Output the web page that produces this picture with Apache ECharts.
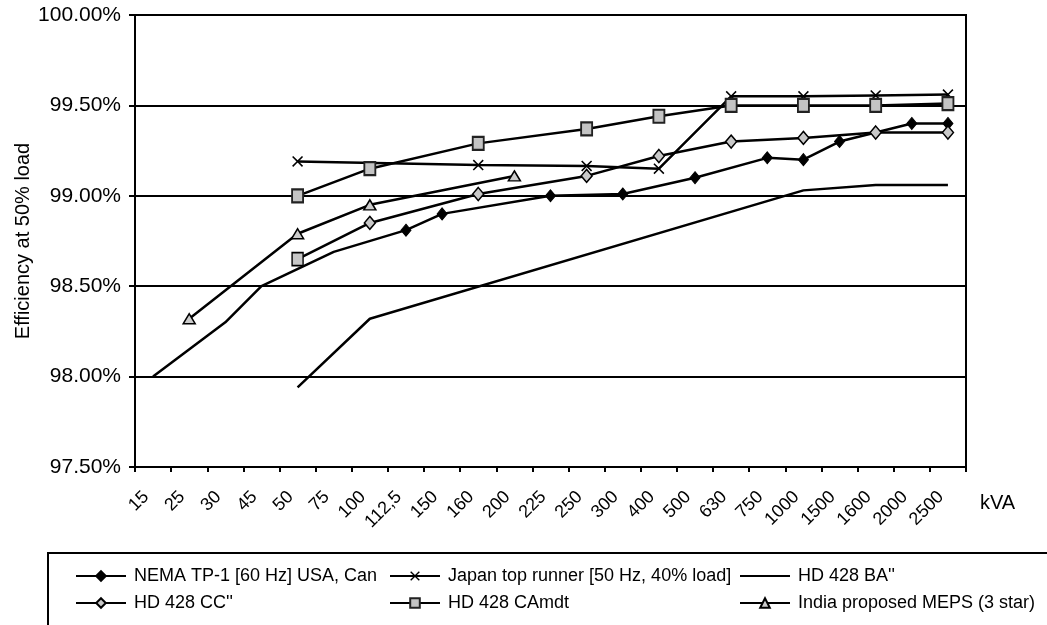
<!DOCTYPE html>
<html>
<head>
<meta charset="utf-8">
<title>Efficiency at 50% load</title>
<script src="https://cdn.jsdelivr.net/npm/echarts@6/dist/echarts.min.js"></script>
<style>
  html, body { margin: 0; padding: 0; background: #fff; }
  #chart { width: 1047px; height: 625px; }
</style>
</head>
<body>
<div id="chart"></div>
<script>
const categories = ['15', '25', '30', '45', '50', '75', '100', '112,5', '150', '160', '200', '225',
  '250', '300', '400', '500', '630', '750', '1000', '1500', '1600', '2000', '2500']
const yTicks = [97.5, 98, 98.5, 99, 99.5, 100]

// one value per category, null where the series has no point
const nema = [98.00, null, 98.30, 98.50, null, 98.69, null, 98.81, 98.90, null, null, 99.00,
  null, 99.01, null, 99.10, null, 99.21, 99.20, 99.30, null, 99.40, 99.40]
const japan = [null, null, null, null, 99.19, null, null, null, null, 99.17, null, null,
  99.165, null, 99.15, null, 99.55, null, 99.55, null, 99.555, null, 99.56]
const hdBA = [null, null, null, null, 97.94, null, 98.32, null, null, null, null, null,
  null, null, null, null, null, null, 99.03, null, 99.06, null, 99.06]
const hdCC = [null, null, null, null, 98.65, null, 98.85, null, null, 99.01, null, null,
  99.11, null, 99.22, null, 99.30, null, 99.32, null, 99.35, null, 99.35]
const hdCAmdt = [null, null, null, null, 99.00, null, 99.15, null, null, 99.29, null, null,
  99.37, null, 99.44, null, 99.50, null, 99.50, null, 99.50, null, 99.51]
const india = [null, 98.32, null, null, 98.79, null, 98.95, null, null, null, 99.11, null,
  null, null, null, null, null, null, null, null, null, null, null]

const names = [
  'NEMA TP-1 [60 Hz] USA, Can',
  'Japan top runner [50 Hz, 40% load]',
  "HD 428 BA''",
  "HD 428 CC''",
  'HD 428 CAmdt',
  'India proposed MEPS (3 star)'
]

const FONT = '"Liberation Sans", Arial, sans-serif'
const xMark = 'path://M0,1L1,0L5,4L9,0L10,1L6,5L10,9L9,10L5,6L1,10L0,9L4,5Z'

function lineSeries (name, data, symbol, size, itemStyle) {
  return {
    name: name,
    type: 'line',
    data: data,
    connectNulls: true,
    showAllSymbol: true,
    symbol: symbol,
    symbolSize: size,
    lineStyle: { color: '#000', width: 2.5 },
    itemStyle: itemStyle,
    emphasis: { disabled: true }
  }
}

// NEMA has no markers below 112,5 kVA; CC'' starts with a square marker
const nemaData = nema.map((v, i) => (i < 7 && v !== null) ? { value: v, symbol: 'none' } : v)
const ccData = hdCC.map((v, i) => i === 4 ? { value: v, symbol: 'rect', symbolSize: [11, 13] } : v)

const legendPos = [[75, 567], [389, 567], [739, 567], [75, 594], [389, 594], [739, 594]]

const option = {
  animation: false,
  backgroundColor: '#fff',
  textStyle: { fontFamily: FONT, color: '#000' },
  grid: { left: 135, right: 81, top: 15, bottom: 158, show: true, borderColor: '#000', borderWidth: 2, backgroundColor: 'transparent' },
  legend: names.map((n, i) => {
    const lg = {
      data: [n],
      left: legendPos[i][0],
      top: legendPos[i][1],
      itemWidth: 50,
      itemHeight: 12,
      padding: 0,
      selectedMode: false,
      lineStyle: { width: 2 },
      textStyle: { fontFamily: FONT, fontSize: 18, color: '#000', padding: [0, 0, 0, 3] }
    }
    // plain line in the legend, no marker
    if (i === 2) lg.itemStyle = { color: 'transparent', borderColor: 'transparent', borderWidth: 0 }
    return lg
  }),
  graphic: [
    {
      type: 'rect',
      z: -1,
      shape: { x: 48, y: 553, width: 1100, height: 100 },
      style: { fill: '#fff', stroke: '#000', lineWidth: 2 }
    },
    {
      type: 'text',
      left: 980,
      top: 493,
      style: { text: 'kVA', font: '20px ' + FONT, fill: '#000' }
    }
  ],
  xAxis: {
    type: 'category',
    data: categories,
    boundaryGap: true,
    axisLine: { lineStyle: { color: '#000', width: 2 } },
    axisTick: { show: true, interval: 0, length: 5, lineStyle: { color: '#000', width: 2 } },
    axisLabel: {
      interval: 0,
      rotate: 45,
      margin: 20,
      padding: [0, 10, 0, 0],
      fontSize: 18,
      fontFamily: FONT,
      color: '#000'
    },
    splitLine: { show: false }
  },
  yAxis: {
    type: 'value',
    min: yTicks[0],
    max: yTicks[yTicks.length - 1],
    interval: 0.5,
    name: 'Efficiency at 50% load',
    nameLocation: 'middle',
    nameGap: 102,
    nameMoveOverlap: false,
    nameTextStyle: { fontSize: 20, fontFamily: FONT, color: '#000' },
    axisLine: { show: true, lineStyle: { color: '#000', width: 2 } },
    axisTick: { show: true, length: 6, lineStyle: { color: '#000', width: 2 } },
    axisLabel: {
      fontSize: 21,
      fontFamily: FONT,
      color: '#000',
      margin: 14,
      formatter: v => v.toFixed(2) + '%'
    },
    splitLine: { lineStyle: { color: '#000', width: 1.8 } }
  },
  series: [
    lineSeries(names[0], nemaData, 'diamond', [10, 12], { color: '#000', borderColor: '#000', borderWidth: 1 }),
    lineSeries(names[1], japan, xMark, 11, { color: '#000' }),
    lineSeries(names[2], hdBA, 'none', 0, { color: '#000' }),
    lineSeries(names[3], ccData, 'diamond', [11, 13], { color: '#c8c8c8', borderColor: '#000', borderWidth: 1.5 }),
    lineSeries(names[4], hdCAmdt, 'rect', [11, 13], { color: '#c4c4c4', borderColor: '#222', borderWidth: 2 }),
    lineSeries(names[5], india, 'triangle', [12, 10], { color: '#cccccc', borderColor: '#000', borderWidth: 1.5 })
  ]
}

const chart = echarts.init(document.getElementById('chart'), null, { renderer: 'canvas' })
chart.setOption(option)
window.addEventListener('resize', () => chart.resize())
</script>
</body>
</html>
